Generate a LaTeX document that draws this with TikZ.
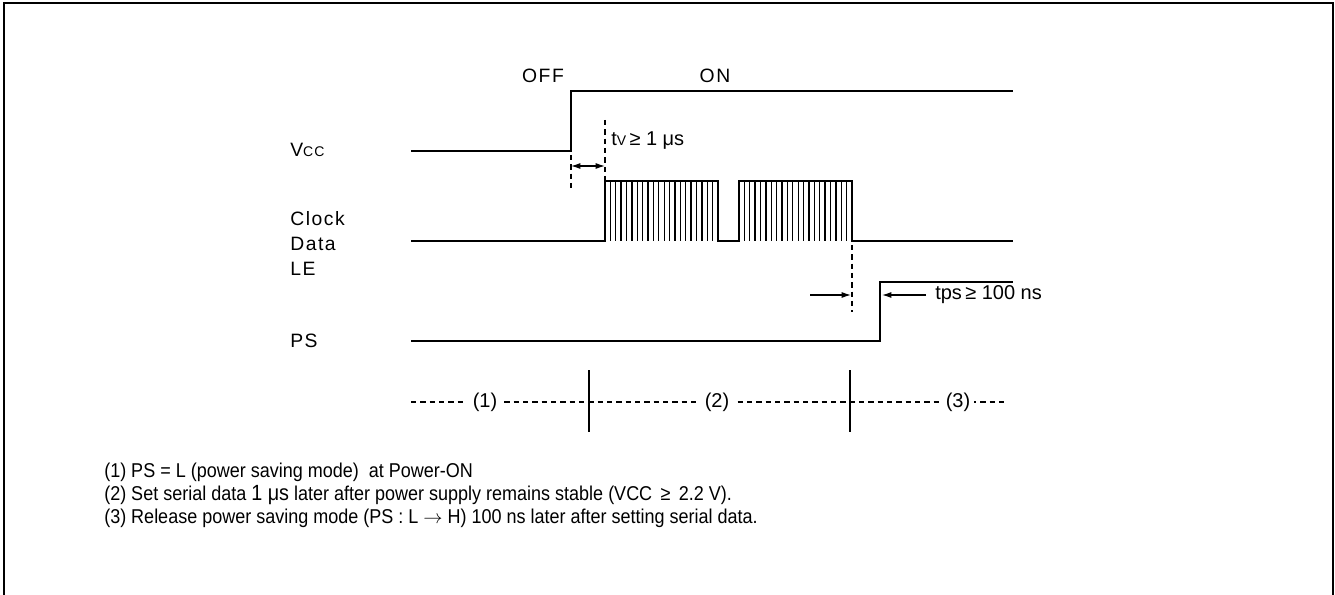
\documentclass[tikz,border=0pt]{standalone}
\usepackage{fontspec}
\setmainfont{Liberation Sans}
\newfontfamily\spacedfont[LetterSpace=8]{Liberation Sans}
\newfontfamily\notefamily[FakeStretch=0.9]{Liberation Sans}
\usetikzlibrary{arrows.meta}
\begin{document}
\begin{tikzpicture}[x=0.75pt,y=-0.75pt,
  sig/.style={line width=2.2pt, line join=miter},
  hatchline/.style={line width=1pt},
  guide/.style={line width=0.9pt, dash pattern=on 4pt off 3pt},
  sep/.style={line width=1.1pt},
  lbl/.style={font=\fontsize{14.5}{16}\selectfont\spacedfont, inner sep=0pt, anchor=west},
  plain/.style={font=\fontsize{15}{16}\selectfont, inner sep=0pt, anchor=west},
  note/.style={font=\fontsize{15}{16}\selectfont\notefamily, inner sep=0pt, anchor=west},
  dimarr/.style={line width=0.9pt, -{Latex[length=7pt,width=4.5pt]}},
  dimboth/.style={line width=0.9pt, {Latex[length=7pt,width=4.5pt]}-{Latex[length=7pt,width=4.5pt]}},
]
\useasboundingbox (0,0) rectangle (1335,595);
% frame
\coordinate (f1) at (4,597); \coordinate (f2) at (4,3);
\coordinate (f3) at (1333,3); \coordinate (f4) at (1333,597);
\draw[line width=1.3pt] (f1) -- (f2) -- (f3) -- (f4);

% state labels
\node[lbl, anchor=center] (off) at (543,76) {OFF};
\node[lbl, anchor=center] (on) at (715,76) {ON};

% signal names
\node[lbl] (vcc) at (290,150) {V{\fontsize{10.5}{12}\selectfont CC}};
\node[lbl] (clk) at (290,219) {Clock};
\node[lbl] (dat) at (290,244) {Data};
\node[lbl] (le) at (290,269) {LE};
\node[lbl] (ps) at (290,341) {PS};

% Vcc
\coordinate (v0) at (411,151); \coordinate (v1) at (571,151);
\coordinate (v2) at (571,91); \coordinate (v3) at (1013,91);
\draw[sig] (v0) -- (v1) -- (v2) -- (v3);

% Clock/Data/LE
\coordinate (c0) at (411,241); \coordinate (c1) at (605,241);
\coordinate (c2) at (605,181); \coordinate (c3) at (718,181);
\coordinate (c4) at (718,241); \coordinate (c5) at (739,241);
\coordinate (c6) at (739,181); \coordinate (c7) at (852,181);
\coordinate (c8) at (852,241); \coordinate (c9) at (1013,241);
\foreach \i in {1,...,20} {
  \draw[hatchline] ({605+\i*113/21},181) -- ++(0,60);
  \draw[hatchline] ({739+\i*113/21},181) -- ++(0,60);
}
\draw[sig] (c0) -- (c1) -- (c2) -- (c3) -- (c4) -- (c5) -- (c6) -- (c7) -- (c8) -- (c9);

% tv
\coordinate (ga) at (571,155); \coordinate (gb) at (571,188);
\coordinate (gc) at (605,120); \coordinate (gd) at (605,181);
\draw[guide] (ga) -- (gb);
\draw[guide] (gc) -- (gd);
\coordinate (ta) at (571,166); \coordinate (tb) at (605,166);
\draw[dimboth] (ta) -- (tb);
\node[plain] (tv) at (611,141) {t{\fontsize{10.5}{12}\selectfont V}\,≥ 1 μs};

% PS
\coordinate (p0) at (411,341); \coordinate (p1) at (880,341);
\coordinate (p2) at (880,282); \coordinate (p3) at (1013,282);
\draw[sig] (p0) -- (p1) -- (p2) -- (p3);

% tps
\coordinate (ge) at (852,245); \coordinate (gf) at (852,312);
\draw[guide] (ge) -- (gf);
\coordinate (aa) at (810,295); \coordinate (ab) at (851,295);
\coordinate (ac) at (926,295); \coordinate (ad) at (882,295);
\draw[dimarr] (aa) -- (ab);
\draw[dimarr] (ac) -- (ad);
\node[plain] (tps) at (935,295) {tps\,≥ 100 ns};

% phases
\coordinate (l0) at (411,402); \coordinate (l1) at (1005,402);
\draw[guide] (l0) -- (l1);
\node[plain, anchor=center, fill=white, inner xsep=5pt] (ph1) at (485,402) {(1)};
\node[plain, anchor=center, fill=white, inner xsep=5pt] (ph2) at (717,402) {(2)};
\node[plain, anchor=center, fill=white, inner xsep=3pt] (ph3) at (958,402) {(3)};
\coordinate (s1a) at (589,370); \coordinate (s1b) at (589,432);
\coordinate (s2a) at (850,370); \coordinate (s2b) at (850,432);
\draw[sep] (s1a) -- (s1b);
\draw[sep] (s2a) -- (s2b);

% notes
\node[note] (n1) at (104,472) {(1) PS = L (power saving mode) \ at Power-ON};
\node[note] (n2) at (104,495) {(2) Set serial data {\fontsize{16.5}{16.5}\selectfont 1 μs} later after power supply remains stable (VCC \,≥\, 2.2 V).};
\node[note] (n3) at (104,518) {(3) Release power saving mode (PS : L $\rightarrow$ H) 100 ns later after setting serial data.};
\end{tikzpicture}
\end{document}
